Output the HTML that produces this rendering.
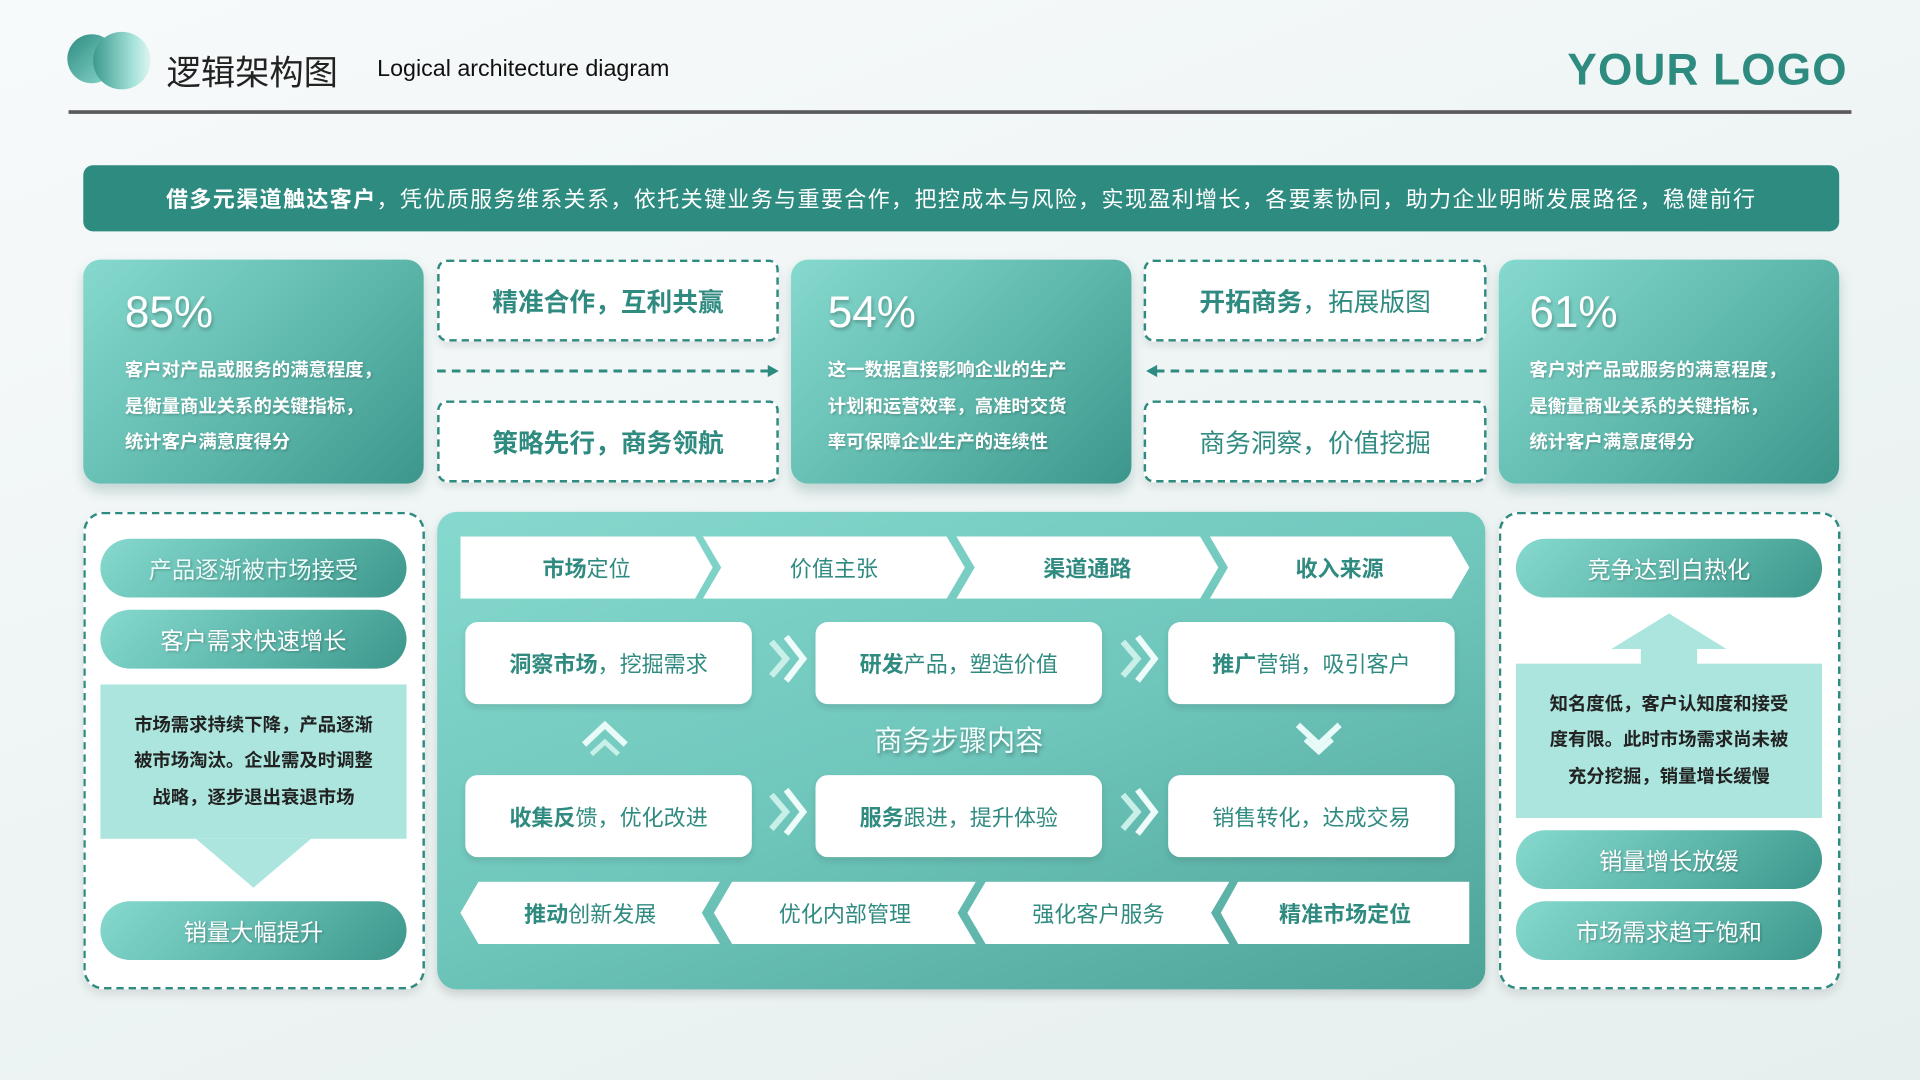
<!DOCTYPE html>
<html><head><meta charset="utf-8"><style>
*{margin:0;padding:0;box-sizing:border-box}
html,body{width:1920px;height:1080px;overflow:hidden;background:#f3f7f7}
#s{position:absolute;left:0;top:0;width:1568px;height:882px;transform:scale(1.22449);transform-origin:0 0;font-family:"Liberation Sans","Noto Sans CJK SC",sans-serif;background:linear-gradient(160deg,#f7fafa 0%,#eef4f4 50%,#e6efee 100%)}
.a{position:absolute}
.card{position:absolute;border-radius:14px;background:linear-gradient(135deg,#86d9ce 0%,#5fb8ac 55%,#3c968b 100%);box-shadow:0 6px 10px rgba(60,120,110,.25);color:#fff}
.card .p{position:absolute;left:34px;top:22px;font-size:36px;text-shadow:1px 2px 3px rgba(0,0,0,.25)}
.card .t{position:absolute;left:34px;top:76px;font-size:15px;font-weight:bold;line-height:29.5px;text-shadow:1px 1px 2px rgba(0,0,0,.2)}
.db{position:absolute;border:2.5px dashed #2e8b80;border-radius:8px;background:#fff;color:#2f8a80;font-size:21px;font-weight:bold;display:flex;align-items:center;justify-content:center;box-shadow:0 4px 6px rgba(0,0,0,.08)}
.pill{position:absolute;left:12px;width:250px;height:48px;border-radius:24px;background:linear-gradient(135deg,#86d9ce,#5ab4a8 60%,#3c968b);color:#fff;font-size:19px;display:flex;align-items:center;justify-content:center;text-shadow:1px 1px 2px rgba(0,0,0,.25)}
.panel{position:absolute;border:2.5px dashed #2e8b80;border-radius:16px;background:#fff;box-shadow:0 4px 8px rgba(0,0,0,.1)}
.lb{position:absolute;left:12px;width:250px;background:#abe5dd;color:#222;font-size:15px;font-weight:bold;line-height:29.5px;text-align:center;display:flex;align-items:center;justify-content:center;padding:0 22px}
.ch{position:absolute;height:51px;background:#fff;color:#2f8a80;font-size:18px;font-weight:bold;display:flex;align-items:center;justify-content:center}
.st{position:absolute;width:234px;height:67px;background:#fff;border-radius:10px;color:#2f8a80;font-size:18px;display:flex;align-items:center;justify-content:center;box-shadow:0 3px 5px rgba(0,0,0,.1)}
.st b{font-weight:bold}
</style></head><body><div id="s">
<div class="a" style="left:55px;top:28px;width:40px;height:40px;border-radius:50%;background:linear-gradient(135deg,#2e8b80,#8bd9ce)"></div>
<div class="a" style="left:76px;top:26px;width:47px;height:47px;border-radius:50%;background:linear-gradient(90deg,#3b9a8f,#a6e3da 70%,#e0f4f1)"></div>
<div class="a" style="left:136px;top:38px;font-size:28px;color:#222">逻辑架构图</div>
<div class="a" style="left:308px;top:46px;font-size:19px;color:#111">Logical architecture diagram</div>
<div class="a" style="left:1280px;top:36px;font-size:36px;font-weight:bold;color:#2e8b80;letter-spacing:1px">YOUR LOGO</div>
<div class="a" style="left:56px;top:90px;width:1456px;height:3px;background:#5a5a5a"></div>
<div class="a" style="left:68px;top:135px;width:1434px;height:54px;border-radius:8px;background:#2e8b80;color:#fff;font-size:18px;letter-spacing:1.1px;display:flex;align-items:center;justify-content:center"><b>借多元渠道触达客户</b>，凭优质服务维系关系，依托关键业务与重要合作，把控成本与风险，实现盈利增长，各要素协同，助力企业明晰发展路径，稳健前行</div>

<div class="card" style="left:68px;top:212px;width:278px;height:183px"><div class="p">85%</div><div class="t">客户对产品或服务的满意程度，<br>是衡量商业关系的关键指标，<br>统计客户满意度得分</div></div>
<div class="card" style="left:646px;top:212px;width:278px;height:183px"><div class="p" style="left:30px">54%</div><div class="t" style="left:30px">这一数据直接影响企业的生产<br>计划和运营效率，高准时交货<br>率可保障企业生产的连续性</div></div>
<div class="card" style="left:1224px;top:212px;width:278px;height:183px"><div class="p" style="left:25px">61%</div><div class="t" style="left:25px">客户对产品或服务的满意程度，<br>是衡量商业关系的关键指标，<br>统计客户满意度得分</div></div>

<div class="db" style="left:357px;top:212px;width:279px;height:67px">精准合作，互利共赢</div>
<div class="db" style="left:357px;top:327px;width:279px;height:67px">策略先行，商务领航</div>
<div class="db" style="left:934px;top:212px;width:280px;height:67px;font-weight:normal"><b>开拓商务</b>，拓展版图</div>
<div class="db" style="left:934px;top:327px;width:280px;height:67px;font-weight:normal">商务洞察，价值挖掘</div>
<svg class="a" style="left:0;top:0" width="1568" height="882">
<line x1="357" y1="303" x2="628" y2="303" stroke="#2e8b80" stroke-width="2.5" stroke-dasharray="7,5"/>
<polygon points="627,298 636,303 627,308" fill="#2e8b80"/>
<line x1="944" y1="303" x2="1214" y2="303" stroke="#2e8b80" stroke-width="2.5" stroke-dasharray="7,5"/>
<polygon points="945,298 936,303 945,308" fill="#2e8b80"/>
</svg>

<div class="panel" style="left:68px;top:418px;width:279px;height:390px">
<div class="pill" style="top:20px;color:#e9fbf8">产品逐渐被市场接受</div>
<div class="pill" style="top:78px">客户需求快速增长</div>
<div class="lb" style="top:139px;height:126px">市场需求持续下降，产品逐渐被市场淘汰。企业需及时调整战略，逐步退出衰退市场</div>
<div class="a" style="left:90px;top:265px;width:0;height:0;border-left:47px solid transparent;border-right:47px solid transparent;border-top:40px solid #abe5dd"></div>
<div class="pill" style="top:316px">销量大幅提升</div>
</div>

<div class="panel" style="left:1224px;top:418px;width:279px;height:390px">
<div class="pill" style="top:20px">竞争达到白热化</div>
<div class="a" style="left:90px;top:81px;width:0;height:0;border-left:47px solid transparent;border-right:47px solid transparent;border-bottom:29px solid #abe5dd"></div>
<div class="a" style="left:114px;top:109px;width:46px;height:14px;background:#abe5dd"></div>
<div class="lb" style="top:122px;height:126px">知名度低，客户认知度和接受度有限。此时市场需求尚未被充分挖掘，销量增长缓慢</div>
<div class="pill" style="top:258px">销量增长放缓</div>
<div class="pill" style="top:316px">市场需求趋于饱和</div>
</div>

<div class="a" style="left:357px;top:418px;width:856px;height:390px;border-radius:16px;background:linear-gradient(160deg,#86d9ce 0%,#6fc6bb 50%,#4ea398 100%);box-shadow:0 4px 8px rgba(0,0,0,.15)"></div>
<div class="ch" style="left:376px;top:438px;width:206px;clip-path:polygon(0 0,93% 0,100% 50%,93% 100%,0 100%);font-weight:normal"><b>市场</b>定位</div>
<div class="ch" style="left:574px;top:438px;width:214px;clip-path:polygon(0 0,93% 0,100% 50%,93% 100%,0 100%,7% 50%);font-weight:normal">价值主张</div>
<div class="ch" style="left:781px;top:438px;width:214px;clip-path:polygon(0 0,93% 0,100% 50%,93% 100%,0 100%,7% 50%)">渠道通路</div>
<div class="ch" style="left:988px;top:438px;width:212px;clip-path:polygon(0 0,93% 0,100% 50%,93% 100%,0 100%,7% 50%)">收入来源</div>

<div class="st" style="left:380px;top:508px"><b>洞察市场</b>，挖掘需求</div>
<div class="st" style="left:666px;top:508px"><b>研发</b>产品，塑造价值</div>
<div class="st" style="left:954px;top:508px"><b>推广</b>营销，吸引客户</div>
<div class="st" style="left:380px;top:633px"><b>收集反</b>馈，优化改进</div>
<div class="st" style="left:666px;top:633px"><b>服务</b>跟进，提升体验</div>
<div class="st" style="left:954px;top:633px">销售转化，达成交易</div>
<svg class="a" style="left:0;top:0" width="1568" height="882">
<g fill="none" stroke-width="5" stroke-linejoin="miter">
<polyline points="630,524 642,538 630,552" stroke="#c9efe9"/><polyline points="642,520 656,538 642,556" stroke="#eefcfa"/>
<polyline points="917,524 929,538 917,552" stroke="#c9efe9"/><polyline points="929,520 943,538 929,556" stroke="#eefcfa"/>
<polyline points="630,649 642,663 630,677" stroke="#c9efe9"/><polyline points="642,645 656,663 642,681" stroke="#eefcfa"/>
<polyline points="917,649 929,663 917,677" stroke="#c9efe9"/><polyline points="929,645 943,663 929,681" stroke="#eefcfa"/>
</g>
<polyline points="477,608 494,592 511,608" fill="none" stroke="#e8fbf8" stroke-width="5"/>
<polyline points="483,616 494,606 505,616" fill="none" stroke="#c9efe9" stroke-width="4"/>
<polyline points="1060,592 1077,608 1094,592" fill="none" stroke="#e8fbf8" stroke-width="5"/>
<polyline points="1066,604 1077,614 1088,604" fill="none" stroke="#e8fbf8" stroke-width="4"/>
</svg>
<div class="a" style="left:660px;top:586px;width:246px;text-align:center;font-size:23px;color:#f2fffd;text-shadow:1px 2px 3px rgba(0,0,0,.3)">商务步骤内容</div>

<div class="ch" style="left:376px;top:720px;width:212px;clip-path:polygon(7% 0,100% 0,93% 50%,100% 100%,7% 100%,0 50%);font-weight:normal"><b>推动</b>创新发展</div>
<div class="ch" style="left:583px;top:720px;width:214px;clip-path:polygon(7% 0,100% 0,93% 50%,100% 100%,7% 100%,0 50%);font-weight:normal">优化内部管理</div>
<div class="ch" style="left:790px;top:720px;width:214px;clip-path:polygon(7% 0,100% 0,93% 50%,100% 100%,7% 100%,0 50%);font-weight:normal">强化客户服务</div>
<div class="ch" style="left:997px;top:720px;width:203px;clip-path:polygon(7% 0,100% 0,100% 100%,7% 100%,0 50%)">精准市场定位</div>
</div></body></html>
